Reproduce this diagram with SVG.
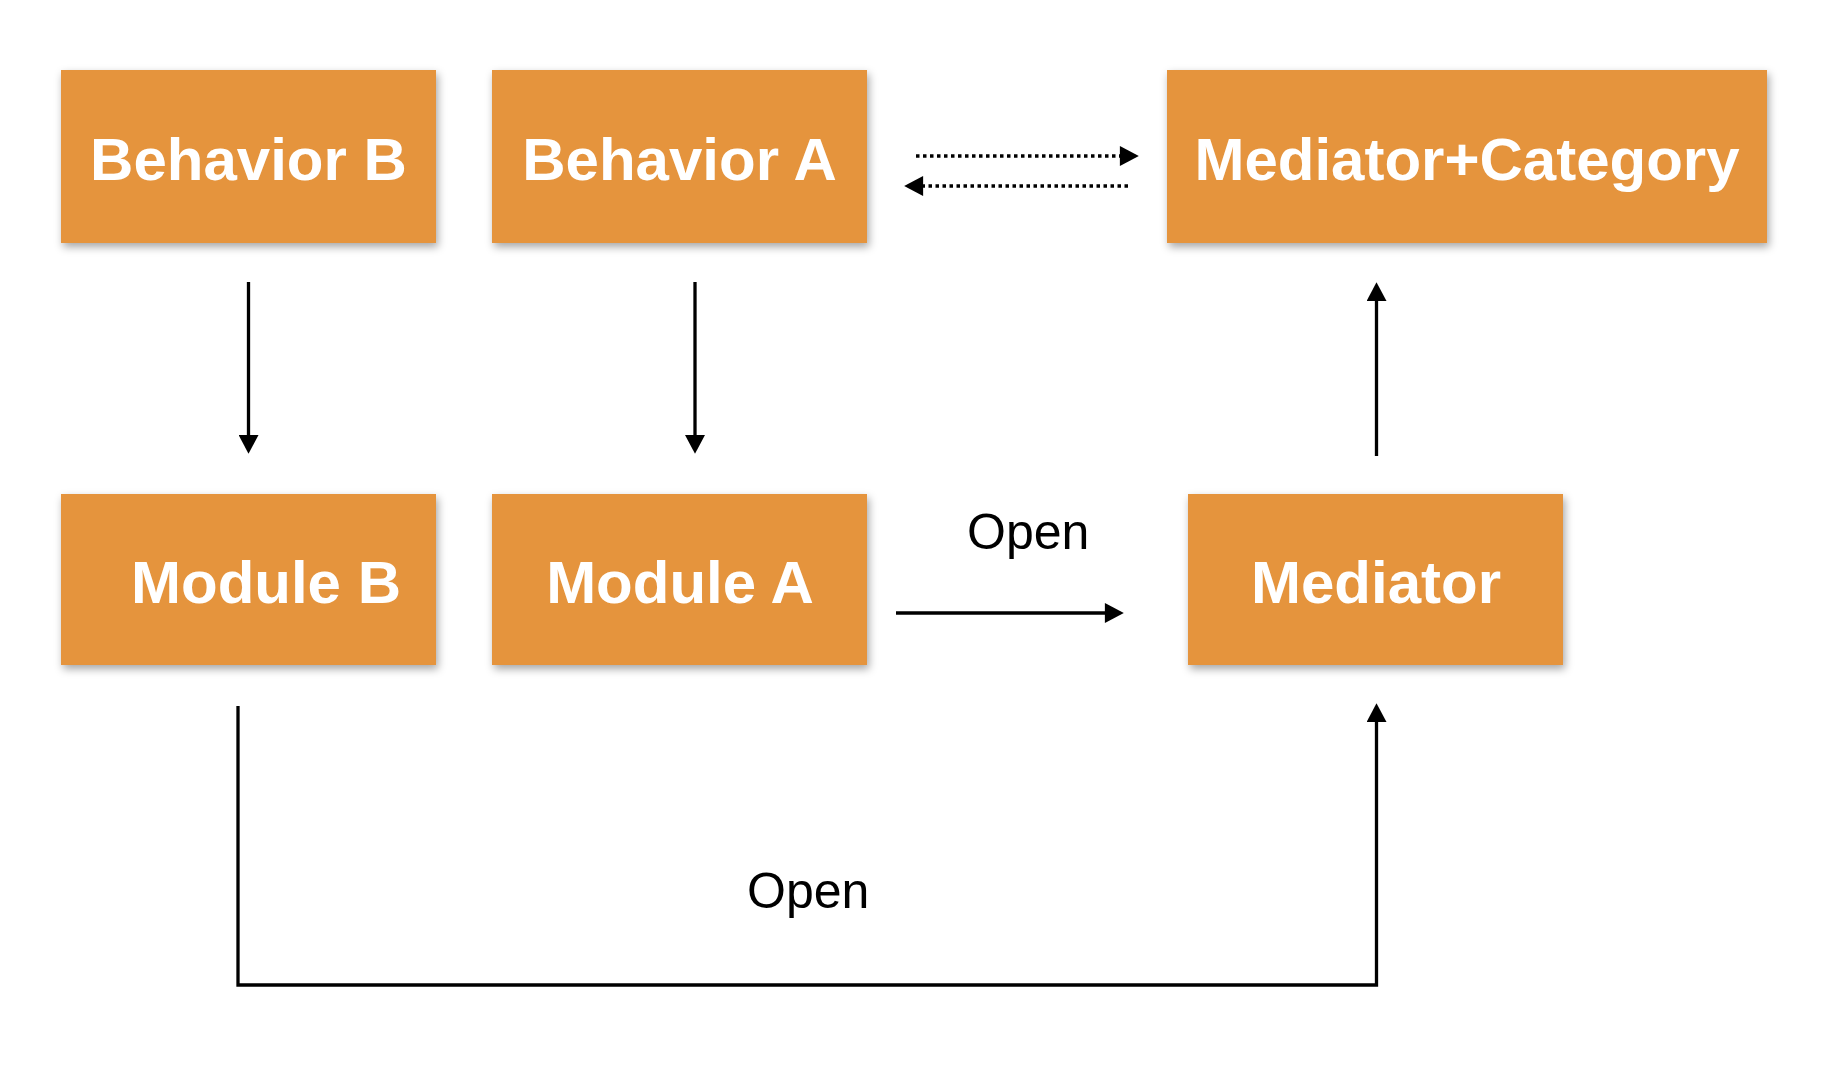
<svg xmlns="http://www.w3.org/2000/svg" width="1840" height="1082" viewBox="0 0 1840 1082">
<defs>
<style>
.box{fill:#E5943E;filter:url(#sh);}
.lbl{font-family:"Liberation Sans",Arial,sans-serif;font-weight:bold;font-size:60px;fill:#FFFFFF;text-anchor:middle;}
.edge{fill:none;stroke:#000;stroke-width:3.3;}
.dot{fill:none;stroke:#000;stroke-width:3.5;stroke-dasharray:3.5 3.5;}
.elbl{font-family:"Liberation Sans",Arial,sans-serif;font-size:50px;fill:#000;}
</style>
<filter id="sh" x="-10%" y="-10%" width="120%" height="130%">
<feDropShadow dx="2" dy="4" stdDeviation="4" flood-color="#000" flood-opacity="0.35"/>
</filter>
<marker id="ah" markerUnits="userSpaceOnUse" markerWidth="20" markerHeight="20" viewBox="0 0 18 19" refX="2" refY="9.5" orient="auto">
<path d="M0,0 L18,9.5 L0,19 z" fill="#000"/>
</marker>
</defs>
<rect width="1840" height="1082" fill="#FFFFFF"/>
<g id="behavior-b"><rect class="box" x="61" y="70" width="375" height="173"/><text class="lbl" x="248.5" y="180">Behavior B</text></g>
<g id="behavior-a"><rect class="box" x="492" y="70" width="375" height="173"/><text class="lbl" x="679.5" y="180">Behavior A</text></g>
<g id="mediator-category"><rect class="box" x="1167" y="70" width="600" height="173"/><text class="lbl" x="1467" y="180">Mediator+Category</text></g>
<g id="module-b"><rect class="box" x="61" y="494" width="375" height="171"/><text class="lbl" x="266" y="603">Module B</text></g>
<g id="module-a"><rect class="box" x="492" y="494" width="375" height="171"/><text class="lbl" x="680" y="603">Module A</text></g>
<g id="mediator"><rect class="box" x="1188" y="494" width="375" height="171"/><text class="lbl" x="1376" y="603">Mediator</text></g>
<g id="connectors">
<line class="edge" x1="248.5" y1="282" x2="248.5" y2="437" marker-end="url(#ah)"/>
<line class="edge" x1="695" y1="282" x2="695" y2="437" marker-end="url(#ah)"/>
<line class="dot" x1="916" y1="156" x2="1122" y2="156" marker-end="url(#ah)"/>
<line class="dot" x1="1128" y1="186" x2="921" y2="186" marker-end="url(#ah)"/>
<line class="edge" x1="896" y1="613" x2="1107" y2="613" marker-end="url(#ah)"/>
<text class="elbl" x="967" y="549">Open</text>
<line class="edge" x1="1376.5" y1="456" x2="1376.5" y2="299" marker-end="url(#ah)"/>
<path class="edge" d="M238,706 V985 H1376.5 V720" marker-end="url(#ah)"/>
<text class="elbl" x="747" y="908">Open</text>
</g>
</svg>
